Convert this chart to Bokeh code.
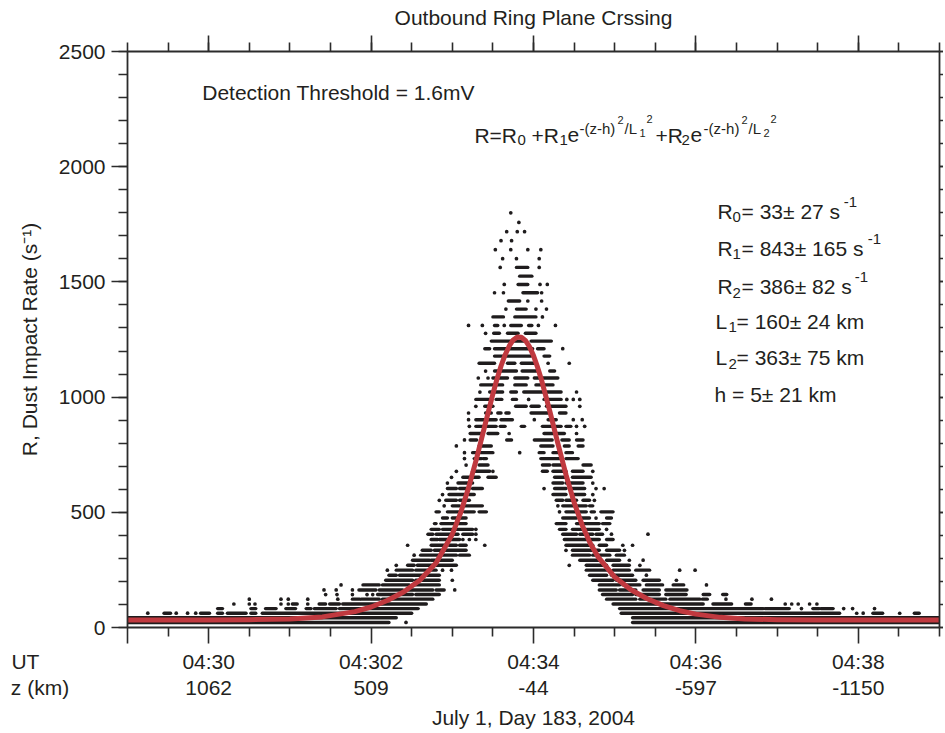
from bokeh.plotting import figure
from bokeh.models import Range1d, LinearAxis, SingleIntervalTicker, FixedTicker, Label
from bokeh.embed import file_html
from bokeh.resources import INLINE

# ---------------- data ----------------
UT_TICKS = [30, 32, 34, 36, 38]          # minutes after 04:00 UT
UT_LABELS = ["04:30", "04:302", "04:34", "04:36", "04:38"]
Z_LABELS = ["1062", "509", "-44", "-597", "-1150"]

# fitted curve (red)
CURVE_T = [29.0, 30.0, 30.5, 31.0, 31.4, 31.8, 32.0, 32.2, 32.4, 32.6, 32.8, 33.0,
           33.1, 33.2, 33.3, 33.4, 33.5, 33.55, 33.6, 33.65, 33.7, 33.75, 33.8, 33.85,
           33.9, 33.95, 34.0, 34.05, 34.1, 34.2, 34.3, 34.4, 34.5, 34.6, 34.7, 34.8,
           35.0, 35.2, 35.4, 35.6, 35.8, 36.0, 36.3, 36.6, 37.0, 37.5, 38.0, 39.0]
CURVE_R = [33, 33, 34, 37, 46, 69, 89, 117, 154, 205, 280, 405,
           495, 606, 735, 875, 1014, 1078, 1135, 1183, 1221, 1248, 1261, 1260,
           1246, 1219, 1180, 1130, 1073, 940, 799, 663, 543, 444, 365, 304,
           219, 164, 125, 95, 73, 58, 44, 37, 34, 33, 33, 33]

# measured impact rates: quantised rate levels (s^-1) and, for each level,
# the times (min after 04:00) of the dots; a pair is a run of touching dots
RATE_LEVELS = [1800, 1758, 1718, 1679, 1640, 1601, 1563, 1525, 1489, 1453, 1417, 1382,
               1348, 1311, 1277, 1243, 1210, 1178, 1147, 1113, 1083, 1053, 1022, 990,
               960, 931, 902, 873, 842, 814, 788, 759, 733, 705, 678, 652, 627, 603,
               577, 552, 528, 502, 475, 451, 426, 405, 382, 357, 335, 314, 292, 270,
               249, 227, 205, 185, 163, 143, 123, 102, 82, 62, 42, 22]
ROW_TIMES = [
    [33.72],
    [33.82],
    [33.67, 33.80, 33.89],
    [33.60, 33.73],
    [33.53, 33.72, 33.93, 34.09],
    [33.62, 33.79, 34.07],
    [33.59, (33.79, 33.93), 34.07],
    [(33.83, 33.98)],
    [33.64, (33.81, 33.93), 34.08, 34.17],
    [33.52, 33.63, (33.87, 34.05), 34.10],
    [(33.69, 33.83), 33.93, 34.10],
    [33.66, (33.79, 33.91), 34.03, 34.16],
    [(33.50, 33.63), (33.77, 34.03), 34.11],
    [33.20, 33.37, (33.52, 33.56), 33.64, (33.72, 33.85), (33.94, 33.98), 34.06, 34.27],
    [33.41, (33.51, 33.58), (33.68, 33.81), (33.90, 34.03)],
    [(33.48, 33.91), (33.97, 34.22)],
    [(33.40, 33.46), (33.52, 33.99), (34.05, 34.13), 34.36],
    [(33.52, 33.97), (34.13, 34.20)],
    [(33.33, 33.52), (33.68, 33.77), (33.85, 34.03), 34.18, 34.44],
    [33.41, (33.52, 33.79), (33.86, 34.05), (34.20, 34.26)],
    [33.32, 33.44, (33.50, 33.68), (33.77, 33.93), (34.01, 34.30)],
    [(33.35, 33.62), (33.77, 33.91), (34.03, 34.24)],
    [33.34, (33.46, 33.62), (33.72, 33.79), (33.88, 34.34), 34.53],
    [(33.29, 33.48), (33.54, 33.61), (33.74, 33.79), 33.94, (34.13, 34.34), 34.41, 34.49, 34.57],
    [33.29, (33.40, 33.50), (33.78, 33.91), (33.97, 34.07), (34.16, 34.40), 34.57],
    [33.20, (33.41, 33.48), (33.56, 33.60), (33.66, 33.70), (33.97, 34.18), (34.32, 34.40)],
    [33.20, (33.29, 33.54), (33.60, 33.74), 34.01, (34.18, 34.28), 34.49, 34.60],
    [33.21, (33.29, 33.54), (33.59, 33.65), (33.85, 33.89), (34.11, 34.34), (34.40, 34.46), 34.53, 34.63],
    [(33.22, 33.38), (33.44, 33.56), 33.70, (34.13, 34.38), 34.53],
    [33.15, (33.22, 33.30), (33.67, 33.73), (34.01, 34.23), (34.35, 34.44), (34.53, 34.61)],
    [33.05, (33.33, 33.48), (34.09, 34.24), (34.38, 34.44), (34.55, 34.61)],
    [33.15, (33.25, 33.29), (33.35, 33.50), 33.83, (34.07, 34.13), (34.24, 34.32), (34.40, 34.48)],
    [33.15, (33.27, 33.36), (33.38, 33.42), (34.09, 34.32), (34.40, 34.55)],
    [33.17, (33.33, 33.44), (34.11, 34.20), (34.24, 34.36), (34.61, 34.71)],
    [33.05, (33.25, 33.46), 33.50, (34.11, 34.17), (34.24, 34.40), (34.48, 34.61), 34.73],
    [32.99, (33.13, 33.33), (33.44, 33.54), (34.26, 34.40), (34.48, 34.71)],
    [32.94, (33.07, 33.25), (34.24, 34.36), (34.40, 34.61), 34.73],
    [(32.94, 33.05), (33.09, 33.21), (33.25, 33.37), 34.13, (34.26, 34.40), (34.46, 34.63), 34.77, 34.87],
    [32.88, (32.96, 33.17), (33.21, 33.27), (34.24, 34.40), (34.48, 34.63), 34.73],
    [32.84, (32.92, 33.05), (33.09, 33.21), (34.28, 34.36), (34.40, 34.53), (34.61, 34.69), 34.75],
    [32.90, (33.00, 33.09), (33.13, 33.37), 34.30, (34.36, 34.65), (34.69, 34.73)],
    [(32.80, 32.84), (32.94, 33.09), (33.15, 33.27), (33.33, 33.42), 34.32, (34.40, 34.65), (34.71, 34.75), (34.83, 34.98)],
    [(32.88, 32.94), (33.00, 33.17), (34.36, 34.53), (34.57, 34.69), 34.77, (34.90, 34.96)],
    [(32.78, 32.80), (32.86, 33.17), (34.28, 34.40), (34.53, 34.81), (34.85, 34.94)],
    [(32.74, 32.84), (32.88, 33.25), 33.29, (34.32, 34.40), (34.48, 34.81), 34.90],
    [(32.70, 32.76), (32.80, 33.07), (33.13, 33.25), 33.29, (34.36, 34.53), (34.57, 34.73), (34.77, 34.85), 34.96, 35.41],
    [(32.74, 32.82), (32.84, 33.09), 33.13, 33.21, 33.29, (34.38, 34.81), (34.90, 34.98)],
    [32.45, (32.74, 32.92), (32.96, 33.05), (33.09, 33.17), 33.40, (34.40, 34.73), (34.81, 34.90), 35.10, 35.22],
    [(32.63, 32.74), (32.78, 33.17), 34.40, (34.48, 34.81), (34.90, 35.06), 35.12],
    [32.53, (32.61, 32.84), (32.88, 33.05), (33.09, 33.21), (34.48, 34.69), (34.73, 34.94), (35.02, 35.12)],
    [(32.51, 32.72), (32.74, 33.00), (34.57, 34.81), (34.90, 35.06), 35.18, 35.35],
    [32.31, (32.45, 32.53), (32.57, 32.76), (32.80, 33.05), 34.44, (34.65, 34.90), (34.98, 35.18), 35.31],
    [32.20, (32.31, 32.51), (32.55, 32.80), 32.88, 32.99, (34.65, 34.94), (34.98, 35.18), (35.26, 35.43), 35.80, 35.99],
    [(32.22, 32.31), (32.35, 32.64), (32.68, 32.84), (34.69, 34.90), (34.96, 35.22), 35.39],
    [(32.18, 32.51), (32.55, 32.84), 33.00, (34.73, 34.98), (35.02, 35.26), (35.35, 35.55), 35.76],
    [31.63, (31.90, 32.10), (32.14, 32.47), (32.51, 32.84), (34.81, 35.06), (35.10, 35.31), (35.39, 35.59), (35.72, 35.85), 36.13],
    [31.42, 31.57, 31.77, (31.85, 32.06), (32.10, 32.39), (32.43, 32.76), (32.80, 32.90), 33.03,
     (34.81, 35.02), (35.06, 35.26), (35.35, 35.55), (35.63, 35.89)],
    [31.44, 31.58, 31.77, 31.95, 32.02, (32.08, 32.51), (32.55, 32.84),
     (34.85, 35.22), (35.26, 35.55), (35.63, 35.88), (36.09, 36.17), (36.33, 36.38)],
    [30.50, 30.89, 30.98, 31.22, 31.59, (31.77, 31.86), (31.88, 32.10), (32.14, 32.76),
     (34.90, 35.26), (35.31, 35.63), (35.68, 36.05), (36.08, 36.14), 36.37, 36.69, 36.93],
    [30.31, 30.50, 30.57, 30.89, 30.98, (31.03, 31.09), 31.22, (31.36, 31.44), (31.49, 31.61), (31.65, 32.68),
     (34.98, 36.09), (36.21, 36.44), (36.61, 36.68), 37.10, 37.18, 37.26, 37.40, 37.49],
    [(30.11, 30.17), (30.52, 30.58), (30.70, 30.83), (30.95, 31.07), (31.20, 31.26), (31.30, 31.57), (31.61, 32.58),
     (35.06, 36.83), (36.85, 37.15), 37.30, (37.44, 37.52), (37.54, 37.69), 37.82, 37.93, 38.20],
    [29.25, (29.45, 29.53), 29.60, 29.74, 29.84, (29.90, 30.01), (30.11, 30.17), (30.23, 30.46), (30.52, 30.58),
     (30.66, 32.50), (35.08, 37.77), 37.98, 38.06, (38.18, 38.30), 38.51, (38.69, 38.75)],
    [(29.00, 32.31), (35.22, 39.00)],
    [(29.00, 32.22), 32.43, (35.22, 39.00)],
]

# annotation texts: (x_px, baseline_px, font_px, text) in reference picture pixels
FORMULA = [
    (475, 136, 21, "R=R"), (518, 141, 15, "0"), (532, 136, 21, "+R"), (560, 141, 15, "1"),
    (568, 136, 21, "e"), (580, 129, 15, "-(z-h)"), (618, 121, 11, "2"), (625, 129, 15, "/L"),
    (640, 134, 11, "1"), (647, 120, 11, "2"),
    (656, 136, 21, "+R"), (682, 141, 15, "2"), (691, 136, 21, "e"), (704, 129, 15, "-(z-h)"),
    (742, 121, 11, "2"), (749, 129, 15, "/L"), (764, 134, 11, "2"), (771, 120, 11, "2"),
]
PARAMS = [
    (718, 212, 21, "R"), (733, 218, 15, "0"), (742, 212, 21, "= 33\u00b1 27 s"), (844, 203, 15, "-1"),
    (718, 249, 21, "R"), (733, 255, 15, "1"), (742, 249, 21, "= 843\u00b1 165 s"), (868, 240, 15, "-1"),
    (718, 287, 21, "R"), (733, 294, 15, "2"), (742, 287, 21, "= 386\u00b1 82 s"), (855, 278, 15, "-1"),
    (716, 322, 21, "L"), (729, 328, 15, "1"), (737, 322, 21, "= 160\u00b1 24 km"),
    (716, 358, 21, "L"), (729, 365, 15, "2"), (737, 358, 21, "= 363\u00b1 75 km"),
    (715, 395, 21, "h = 5\u00b1 21 km"),
    (203, 93, 21, "Detection Threshold = 1.6mV"),
]
TITLE = "Outbound Ring Plane Crssing"
X_TITLE = "July 1, Day 183, 2004"
Y_TITLE = "R, Dust Impact Rate (s\u207b\u00b9)"
ROW_NAMES = ["UT", "z (km)"]

# ---------------- drawing ----------------
FONT = "Liberation Sans"
TXT = "#231f20"
AX = "#2b2b2b"
DOT = "#1f1c1d"
RED = "#c0393f"
NBSP = "\u00a0"

W, H = 943, 731
FL, FR, FT, FB = 127, 939, 51, 627   # frame edges on the canvas
X0, X1 = 29, 39


def t_of(xp):   # reference picture x -> minutes
    return 29 + (xp - 128.3) / 81.15


def r_of(yp):   # reference picture y -> rate
    return (628.3 - yp) / 0.2305


p = figure(width=W, height=H, x_range=Range1d(X0, X1), y_range=Range1d(0, 2500),
           output_backend="svg", toolbar_location=None,
           x_axis_location=None, y_axis_location=None,
           min_border_left=FL, min_border_right=W - FR,
           min_border_top=FT, min_border_bottom=H - FB)
p.outline_line_color = None
p.background_fill_color = "white"
p.border_fill_color = "white"
for g in p.grid:
    g.visible = False

p.title.text = TITLE
p.title.align = "center"
p.title.vertical_align = "top"
p.title.text_font = FONT
p.title.text_font_size = "21px"
p.title.text_font_style = "normal"
p.title.text_color = TXT
p.title.standoff = 10

seg_x0, seg_x1, seg_y, dot_x, dot_y = [], [], [], [], []
for lvl, times in zip(RATE_LEVELS, ROW_TIMES):
    for s in times:
        if isinstance(s, tuple):
            seg_x0.append(s[0]); seg_x1.append(s[1]); seg_y.append(lvl)
        else:
            dot_x.append(s); dot_y.append(lvl)

p.segment(x0=seg_x0, y0=seg_y, x1=seg_x1, y1=seg_y, line_width=3.4,
          line_color=DOT, line_cap="round")
p.scatter(dot_x, dot_y, size=3.7, fill_color=DOT, line_color=None)
p.line(CURVE_T, CURVE_R, line_width=5, line_color=RED, line_join="round")


def style(ax, tick_out=16, minor_out=9, labels=True):
    ax.axis_line_color = AX
    ax.axis_line_width = 1.8
    ax.major_tick_line_color = AX
    ax.minor_tick_line_color = AX
    ax.major_tick_line_width = 1.6
    ax.minor_tick_line_width = 1.6
    ax.major_tick_in = 0
    ax.minor_tick_in = 0
    ax.major_tick_out = tick_out
    ax.minor_tick_out = minor_out
    ax.major_label_text_font = FONT
    if labels:
        ax.major_label_text_color = TXT
        ax.major_label_text_font_size = "21px"
        ax.major_label_standoff = 6
    else:
        ax.major_label_text_color = None
        ax.major_label_text_font_size = "1px"
        ax.major_label_standoff = 0


xt = lambda: SingleIntervalTicker(interval=2, num_minor_ticks=4)
yt = lambda: SingleIntervalTicker(interval=500, num_minor_ticks=5)

# bottom axes: the row names sit on an extra tick at the left frame edge,
# padded with no-break spaces so that they land left of the frame
half_minutes = [X0 + 0.5 * i for i in range(int((X1 - X0) * 2) + 1)]
bottom_ticks = [X0] + UT_TICKS
bottom_minor = [m for m in half_minutes if m not in bottom_ticks]
PAD = {"UT": 35, "z (km)": 30}

ax_ut = LinearAxis(ticker=FixedTicker(ticks=bottom_ticks, minor_ticks=bottom_minor))
style(ax_ut)
ax_ut.major_label_overrides = {X0: ROW_NAMES[0] + NBSP * PAD[ROW_NAMES[0]],
                               **dict(zip(UT_TICKS, UT_LABELS))}
p.add_layout(ax_ut, "below")

ax_z = LinearAxis(ticker=FixedTicker(ticks=bottom_ticks, minor_ticks=[]))
style(ax_z, tick_out=0, minor_out=0)
ax_z.axis_line_color = None
ax_z.major_tick_line_color = None
ax_z.minor_tick_line_color = None
ax_z.major_label_standoff = 0
ax_z.major_label_overrides = {X0: ROW_NAMES[1] + NBSP * PAD[ROW_NAMES[1]],
                              **dict(zip(UT_TICKS, Z_LABELS))}
ax_z.axis_label = X_TITLE
ax_z.axis_label_text_font = FONT
ax_z.axis_label_text_font_size = "21px"
ax_z.axis_label_text_font_style = "normal"
ax_z.axis_label_text_color = TXT
ax_z.axis_label_standoff = 4
p.add_layout(ax_z, "below")

ax_top = LinearAxis(ticker=xt())
style(ax_top, labels=False)
p.add_layout(ax_top, "above")

ax_l = LinearAxis(ticker=yt())
style(ax_l)
ax_l.axis_label = Y_TITLE
ax_l.axis_label_text_font = FONT
ax_l.axis_label_text_font_size = "21px"
ax_l.axis_label_text_font_style = "normal"
ax_l.axis_label_text_color = TXT
ax_l.axis_label_standoff = 15
p.add_layout(ax_l, "left")

ax_r = LinearAxis(ticker=yt())
style(ax_r, tick_out=4, minor_out=4, labels=False)
p.add_layout(ax_r, "right")


def add_text(xp, yp, size, text, align="left"):
    p.add_layout(Label(x=t_of(xp), y=r_of(yp), text=text, text_font=FONT,
                       text_font_size=f"{size}px", text_color=TXT,
                       text_align=align, text_baseline="alphabetic"))


for xp, yp, sz, tx in FORMULA + PARAMS:
    add_text(xp, yp, sz, tx)

open("out.html", "w").write(file_html(p, INLINE))
